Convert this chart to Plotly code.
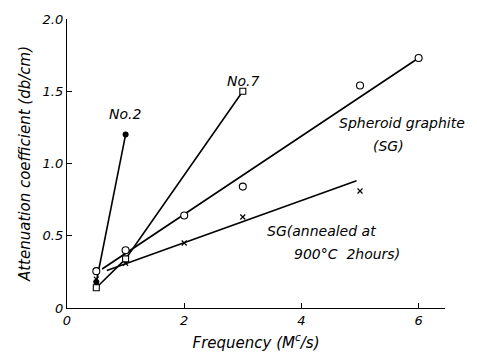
import plotly.graph_objects as go

# Measured attenuation coefficient (db/cm) versus frequency (Mc/s)
no2_freq = [0.5, 1.0]
no2_atten = [0.18, 1.20]

no7_freq = [0.5, 1.0, 3.0]
no7_atten = [0.14, 0.34, 1.50]

sg_freq = [0.5, 1.0, 2.0, 3.0, 5.0, 6.0]
sg_atten = [0.255, 0.40, 0.64, 0.84, 1.54, 1.73]
sg_fit_freq = [0.6, 6.0]
sg_fit_atten = [0.27, 1.73]

ann_freq = [0.5, 1.0, 2.0, 3.0, 5.0]
ann_atten = [0.20, 0.31, 0.45, 0.63, 0.81]
ann_fit_freq = [0.68, 4.94]
ann_fit_atten = [0.26, 0.88]

x_ticks = [0, 2, 4, 6]
y_ticks = [0, 0.5, 1.0, 1.5, 2.0]
y_tick_text = ["0", "0.5", "1.0", "1.5", "2.0"]

FONT = "DejaVu Sans"
ink = "black"
lw = 1.6

fig = go.Figure()

# Straight lines (drawn first so the open markers sit on top)
fig.add_trace(go.Scatter(x=no2_freq, y=no2_atten, mode="lines",
                         line=dict(color=ink, width=lw), hoverinfo="skip"))
fig.add_trace(go.Scatter(x=no7_freq, y=no7_atten, mode="lines",
                         line=dict(color=ink, width=lw), hoverinfo="skip"))
fig.add_trace(go.Scatter(x=sg_fit_freq, y=sg_fit_atten, mode="lines",
                         line=dict(color=ink, width=lw), hoverinfo="skip"))
fig.add_trace(go.Scatter(x=ann_fit_freq, y=ann_fit_atten, mode="lines",
                         line=dict(color=ink, width=lw), hoverinfo="skip"))

# Markers
fig.add_trace(go.Scatter(x=ann_freq, y=ann_atten, mode="markers",
                         marker=dict(symbol="x-thin", size=5, color=ink,
                                     line=dict(color=ink, width=1.2))))
fig.add_trace(go.Scatter(x=no7_freq, y=no7_atten, mode="markers",
                         marker=dict(symbol="square", size=6, color="white",
                                     line=dict(color=ink, width=1.1))))
fig.add_trace(go.Scatter(x=sg_freq, y=sg_atten, mode="markers",
                         marker=dict(symbol="circle", size=7, color="white",
                                     line=dict(color=ink, width=1.1))))
fig.add_trace(go.Scatter(x=no2_freq, y=no2_atten, mode="markers",
                         marker=dict(symbol="circle", size=6, color=ink,
                                     line=dict(color=ink, width=0))))

label_font = dict(family=FONT, size=14, color=ink, style="italic")
labels = [
    (0.99, 1.34, "No.2", "center"),
    (3.0, 1.57, "No.7", "center"),
    (5.72, 1.28, "Spheroid graphite", "center"),
    (5.48, 1.12, "(SG)", "center"),
    (4.34, 0.53, "SG(annealed at", "center"),
    (4.78, 0.375, "900°C  2hours)", "center"),
]
for lx, ly, txt, anc in labels:
    fig.add_annotation(x=lx, y=ly, text=txt, showarrow=False,
                       xanchor=anc, yanchor="middle", font=label_font)

axis_font = dict(family=FONT, size=13, color=ink, style="italic")
title_font = dict(family=FONT, size=15, color=ink, style="italic")
fig.update_xaxes(range=[0, 6.45], tickvals=x_ticks, ticks="inside", ticklen=5,
                 tickwidth=1, tickcolor=ink, showline=True, linecolor=ink,
                 linewidth=1.3, showgrid=False, zeroline=False,
                 tickfont=axis_font,
                 title=dict(text="Frequency (M<sup>c</sup>/s)",
                            font=title_font, standoff=10))
fig.update_yaxes(range=[0, 2.0], tickvals=y_ticks, ticktext=y_tick_text,
                 ticks="inside", ticklen=5, tickwidth=1, tickcolor=ink,
                 showline=True, linecolor=ink, linewidth=1.3, showgrid=False,
                 zeroline=False, tickfont=axis_font,
                 title=dict(text="Attenuation coefficient (db/cm)",
                            font=title_font, standoff=8))

fig.update_layout(width=477, height=360, showlegend=False,
                  paper_bgcolor="white", plot_bgcolor="white",
                  margin=dict(l=67, r=32, t=16, b=51))

fig.write_html("out.html")
